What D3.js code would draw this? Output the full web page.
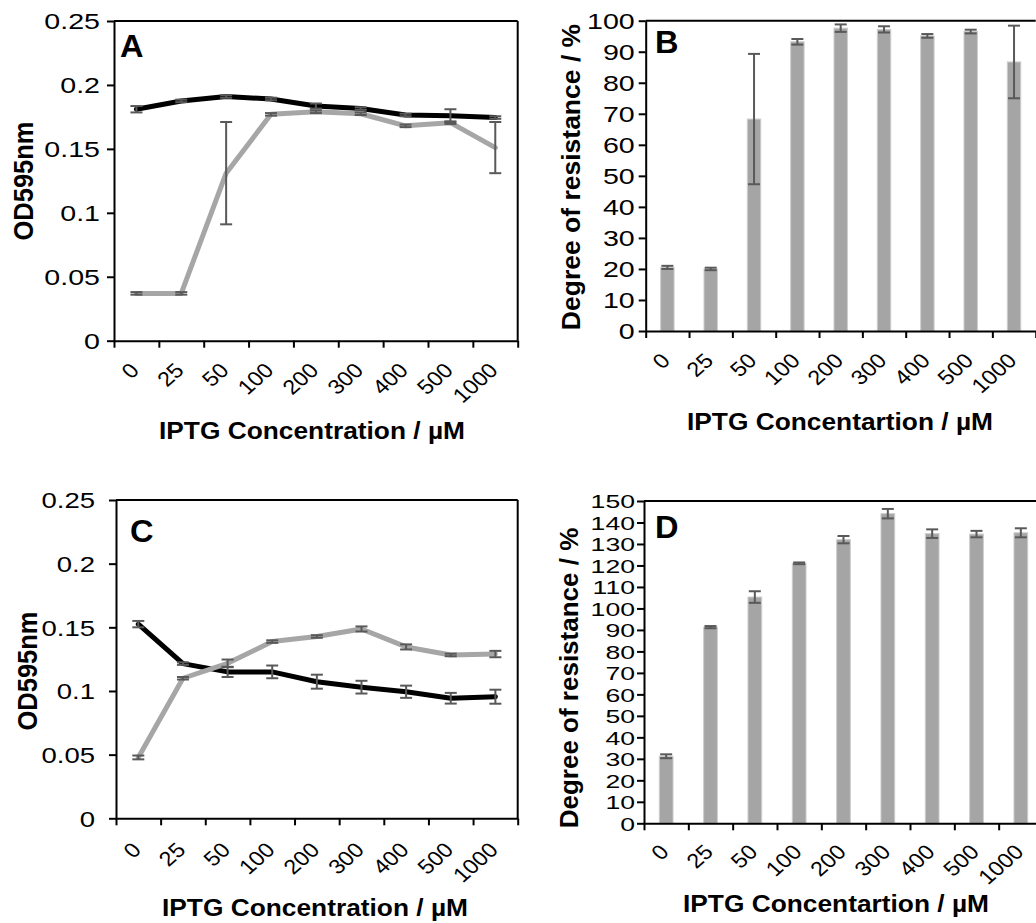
<!DOCTYPE html>
<html>
<head>
<meta charset="utf-8">
<title>IPTG induction panels</title>
<script src="https://d3js.org/d3.v7.min.js"></script>
<style>
  body { margin: 0; background: #fff; }
  svg { display: block; font-family: "Liberation Sans", Arial, sans-serif; }
</style>
</head>
<body>
<div id="chart"></div>
<script>
// categories (IPTG, uM)
const categories = ["0", "25", "50", "100", "200", "300", "400", "500", "1000"];

// panel A - OD595nm
const aBlack    = [0.181, 0.1875, 0.191, 0.189, 0.1835, 0.1815, 0.1765, 0.176, 0.1745];
const aBlackErr = [0.0025, 0.001, 0.001, 0.001, 0.002, 0.001, 0.001, 0.005, 0.001];
const aGrey     = [0.037, 0.037, 0.131, 0.177, 0.179, 0.1775, 0.168, 0.1705, 0.151];
const aGreyErr  = [0.001, 0.001, 0.040, 0.001, 0.001, 0.001, 0.001, 0.001, 0.020];

// panel B - degree of resistance
const bValues = [20.5, 20.0, 68.3, 93.2, 97.6, 97.2, 95.1, 96.5, 86.7];
const bErr    = [0.5, 0.4, 21.0, 0.9, 1.2, 1.0, 0.6, 0.6, 11.7];

// panel C - OD595nm
const cBlack    = [0.1525, 0.1215, 0.115, 0.115, 0.1073, 0.103, 0.0994, 0.0943, 0.0955];
const cBlackErr = [0.0025, 0.001, 0.004, 0.005, 0.0055, 0.005, 0.0048, 0.0042, 0.0055];
const cGrey     = [0.0478, 0.110, 0.1217, 0.1388, 0.1428, 0.1487, 0.1346, 0.1283, 0.129];
const cGreyErr  = [0.0015, 0.001, 0.003, 0.001, 0.001, 0.002, 0.002, 0.001, 0.0025];

// panel D - degree of resistance
const dValues = [31.2, 91.3, 105.3, 121.0, 132.0, 144.1, 134.8, 134.6, 135.2];
const dErr    = [0.9, 0.5, 2.7, 0.4, 1.7, 2.2, 2.0, 1.5, 2.1];

// axis tick values
const odTicks = [0, 0.05, 0.1, 0.15, 0.2, 0.25];
const resTicksB = d3.range(0, 101, 10);
const resTicksD = d3.range(0, 151, 10);

const W = 1036, H = 923;
const SX = 1.14; // the original figure is stretched sideways a little

const svg = d3.select("#chart").append("svg")
    .attr("width", W)
    .attr("height", H);

function drawFrame(g, p, x, y) {
    const xi = d3.scaleLinear().domain([0, categories.length]).range([p.left, p.right]);

    g.append("g")
        .attr("transform", `translate(0,${p.bottom})`)
        .call(d3.axisBottom(xi).tickValues(d3.range(categories.length + 1)).tickSize(7).tickSizeOuter(0).tickFormat(""))
        .call(a => a.selectAll("path, line").attr("stroke", "#000").attr("stroke-width", 2));

    g.append("g")
        .attr("transform", `translate(${p.left},0)`)
        .call(d3.axisLeft(y).tickValues(p.yTicks).tickSize(7).tickSizeOuter(0).tickFormat(d3.format("~g")))
        .call(a => a.selectAll("path, line").attr("stroke", "#000").attr("stroke-width", 2))
        .call(a => a.selectAll("text")
            .attr("x", null)
            .attr("dy", "0.36em")
            .attr("transform", `translate(${-p.gap},0) scale(${p.tickSX},1)`)
            .attr("fill", "#000")
            .style("font-size", p.tickFont + "px")
            .style("font-family", null));

    // top border (and right border where it fits on the page)
    g.append("line")
        .attr("x1", p.left).attr("x2", Math.min(p.right, W))
        .attr("y1", p.top).attr("y2", p.top)
        .attr("stroke", "#000").attr("stroke-width", 2);
    if (p.frame) {
        g.append("line")
            .attr("x1", p.right).attr("x2", p.right)
            .attr("y1", p.top).attr("y2", p.bottom)
            .attr("stroke", "#000").attr("stroke-width", 2);
    }

    // rotated category labels
    g.selectAll(".xlab")
        .data(categories)
        .join("text")
        .attr("class", "xlab")
        .attr("text-anchor", "end")
        .attr("transform", d => `translate(${x(d) + x.bandwidth() / 2 + 4},${p.bottom + p.xLabDy}) scale(${SX},1) rotate(-45)`)
        .style("font-size", "20.5px")
        .text(d => d);

    g.append("text")
        .attr("transform", `translate(${p.letterX},${p.letterY}) scale(1.05,1)`)
        .style("font-size", "31px")
        .style("font-weight", "bold")
        .text(p.letter);

    g.append("text")
        .attr("text-anchor", "middle")
        .attr("transform", `translate(${p.yTitleX},${p.yTitleY}) rotate(-90) scale(1,${p.yTitleSX})`)
        .attr("dy", "0.36em")
        .style("font-size", p.yTitleFont + "px")
        .style("font-weight", "bold")
        .text(p.yTitle);

    g.append("text")
        .attr("text-anchor", "middle")
        .attr("transform", `translate(${p.xTitleX},${p.xTitleY}) scale(1.12,1)`)
        .style("font-size", "23.5px")
        .style("font-weight", "bold")
        .text(p.xTitle);
}

function errorBars(g, x, y, values, errs) {
    const cap = 6;
    const eb = g.append("g").attr("stroke", "#595959").attr("stroke-width", 2);
    categories.forEach((c, i) => {
        const cx = x(c) + x.bandwidth() / 2;
        const y0 = y(values[i] - errs[i]), y1 = y(values[i] + errs[i]);
        eb.append("line").attr("x1", cx).attr("x2", cx).attr("y1", y0).attr("y2", y1);
        eb.append("line").attr("x1", cx - cap).attr("x2", cx + cap).attr("y1", y0).attr("y2", y0);
        eb.append("line").attr("x1", cx - cap).attr("x2", cx + cap).attr("y1", y1).attr("y2", y1);
    });
}

function linePanel(p, series) {
    const g = svg.append("g");
    const x = d3.scaleBand().domain(categories).range([p.left, p.right]).padding(0);
    const y = d3.scaleLinear().domain([0, 0.25]).range([p.bottom, p.top]);

    drawFrame(g, p, x, y);

    const line = d3.line()
        .x((d, i) => x(categories[i]) + x.bandwidth() / 2)
        .y(d => y(d));

    series.forEach(s => {
        g.append("path")
            .datum(s.values)
            .attr("d", line)
            .attr("fill", "none")
            .attr("stroke", s.color)
            .attr("stroke-width", 5)
            .attr("stroke-linejoin", "round")
            .attr("stroke-linecap", "round");
    });
    series.forEach(s => errorBars(g, x, y, s.values, s.errs));
}

function barPanel(p, values, errs) {
    const g = svg.append("g");
    const x = d3.scaleBand().domain(categories).range([p.left, p.right]).padding(0);
    const y = d3.scaleLinear().domain([0, p.yMax]).range([p.bottom, p.top]);
    const bw = x.bandwidth() * 0.31;

    g.selectAll(".bar")
        .data(values)
        .join("rect")
        .attr("class", "bar")
        .attr("x", (d, i) => x(categories[i]) + x.bandwidth() / 2 - bw / 2)
        .attr("y", d => y(d))
        .attr("width", bw)
        .attr("height", d => p.bottom - y(d))
        .attr("fill", "#a5a5a5")
        .attr("stroke", "#cdcdcd")
        .attr("stroke-width", 1);

    drawFrame(g, p, x, y);
    errorBars(g, x, y, values, errs);
}

linePanel({
    left: 114, right: 517.7, top: 21, bottom: 340.7,
    yTicks: odTicks, gap: 14, tickFont: 22, tickSX: 1.3, frame: true, xLabDy: 31,
    letter: "A", letterX: 120, letterY: 57,
    yTitle: "OD595nm", yTitleX: 23, yTitleY: 181, yTitleFont: 25.5, yTitleSX: 1.05,
    xTitle: "IPTG Concentration / µM", xTitleX: 312, xTitleY: 439
}, [
    { values: aBlack, errs: aBlackErr, color: "#000000" },
    { values: aGrey, errs: aGreyErr, color: "#a6a6a6" }
]);

barPanel({
    left: 645.7, right: 1035.7, top: 20.7, bottom: 331, yMax: 100,
    yTicks: resTicksB, gap: 11, tickFont: 22, tickSX: 1.3, frame: false, xLabDy: 31,
    letter: "B", letterX: 655, letterY: 53,
    yTitle: "Degree of resistance / %", yTitleX: 570, yTitleY: 177, yTitleFont: 26.5, yTitleSX: 1.0,
    xTitle: "IPTG Concentartion / µM", xTitleX: 840, xTitleY: 430
}, bValues, bErr);

linePanel({
    left: 116, right: 517.7, top: 500, bottom: 818.3,
    yTicks: odTicks, gap: 21, tickFont: 22, tickSX: 1.25, frame: true, xLabDy: 33,
    letter: "C", letterX: 130, letterY: 542,
    yTitle: "OD595nm", yTitleX: 27, yTitleY: 671, yTitleFont: 25.5, yTitleSX: 1.05,
    xTitle: "IPTG Concentration / µM", xTitleX: 315, xTitleY: 916
}, [
    { values: cBlack, errs: cBlackErr, color: "#000000" },
    { values: cGrey, errs: cGreyErr, color: "#a6a6a6" }
]);

barPanel({
    left: 644, right: 1043, top: 501, bottom: 823.3, yMax: 150,
    yTicks: resTicksD, gap: 9, tickFont: 19, tickSX: 1.4, frame: false, xLabDy: 30,
    letter: "D", letterX: 655, letterY: 538,
    yTitle: "Degree of resistance / %", yTitleX: 569, yTitleY: 678, yTitleFont: 26, yTitleSX: 1.0,
    xTitle: "IPTG Concentartion / µM", xTitleX: 836, xTitleY: 912
}, dValues, dErr);
</script>
</body>
</html>
